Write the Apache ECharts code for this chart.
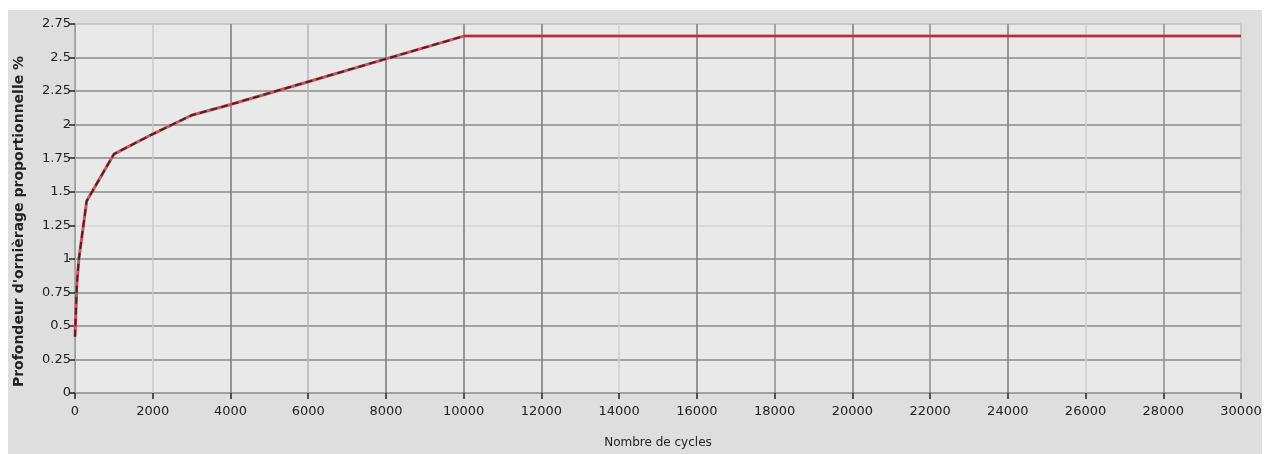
<!DOCTYPE html>
<html>
<head>
<meta charset="utf-8">
<script src="https://cdn.jsdelivr.net/npm/echarts@6/dist/echarts.min.js"></script>
<style>
  html, body { margin: 0; padding: 0; background: #ffffff; }
  #chart { position: absolute; left: 8px; top: 10px; width: 1254px; height: 444px; background: #dedede; }
</style>
</head>
<body>
<div id="chart"></div>
<script>
// Rut depth (%) against number of load cycles
const rutCycles = [0, 50, 100, 300, 1000, 2000, 3000, 4000, 6000, 8000, 10000];
const rutDepth  = [0.42, 0.82, 1.0, 1.43, 1.78, 1.93, 2.07, 2.15, 2.32, 2.49, 2.66];
const plateauCycles = [10000, 30000];
const plateauDepth  = [2.66, 2.66];

const xTicks = [0, 2000, 4000, 6000, 8000, 10000, 12000, 14000, 16000, 18000, 20000, 22000, 24000, 26000, 28000, 30000];
const yTicks = [0, 0.25, 0.5, 0.75, 1, 1.25, 1.5, 1.75, 2, 2.25, 2.5, 2.75];

const curve = rutCycles.map((c, i) => [c, rutDepth[i]]);
const plateau = plateauCycles.map((c, i) => [c, plateauDepth[i]]);
const redLine = curve.concat(plateau.slice(1));

// grid line shades, one per tick
const vShades = ['#9a9a9a', '#c8c8c8', '#7a7a7a', '#b4b4b4', '#7a7a7a', '#7a7a7a', '#7a7a7a', '#cfcfcf',
                 '#7a7a7a', '#8c8c8c', '#7a7a7a', '#8c8c8c', '#7a7a7a', '#cccccc', '#8c8c8c', '#c0c0c0'];
const hShades = ['#8a8a8a', '#8a8a8a', '#8a8a8a', '#8a8a8a', '#8a8a8a', '#d6d6d6', '#8a8a8a', '#8a8a8a',
                 '#8a8a8a', '#8a8a8a', '#8a8a8a', '#bdbdbd'];

const chart = echarts.init(document.getElementById('chart'));
const font = '"DejaVu Sans", sans-serif';
chart.setOption({
  animation: false,
  backgroundColor: '#dedede',
  grid: {
    left: 67, top: 14, width: 1166, height: 369,
    outerBoundsMode: 'none', containLabel: false,
    show: true, backgroundColor: '#e9e9e9', borderWidth: 0
  },
  xAxis: {
    type: 'value', min: xTicks[0], max: xTicks[xTicks.length - 1], interval: 2000,
    name: 'Nombre de cycles', nameLocation: 'middle', nameGap: 44,
    nameTextStyle: { fontFamily: font, fontSize: 12, color: '#222' },
    axisLine: { show: true, lineStyle: { color: '#a0a0a0', width: 1 } },
    axisTick: { show: true, length: 6, lineStyle: { color: '#222', width: 1.5 } },
    axisLabel: { fontFamily: font, fontSize: 13, color: '#222', margin: 12, formatter: v => String(v) },
    splitLine: { show: true, lineStyle: { color: vShades, width: 1.5 } }
  },
  yAxis: {
    type: 'value', min: yTicks[0], max: yTicks[yTicks.length - 1], interval: 0.25,
    name: "Profondeur d'ornièrage proportionnelle %", nameLocation: 'middle', nameGap: 49,
    nameTextStyle: { fontFamily: font, fontSize: 14, fontWeight: 'bold', color: '#222', padding: [0, 26, 0, 0] },
    axisLine: { show: true, lineStyle: { color: '#a0a0a0', width: 1 } },
    axisTick: { show: true, length: 6, lineStyle: { color: '#222', width: 1.5 } },
    axisLabel: { fontFamily: font, fontSize: 13, color: '#222', margin: 4, formatter: v => String(v) },
    splitLine: { show: true, lineStyle: { color: hShades, width: 1.5 } }
  },
  series: [
    {
      type: 'line', data: redLine, symbol: 'none',
      lineStyle: { color: '#d8505c', width: 3 },
      z: 2
    },
    {
      type: 'line', data: plateau, symbol: 'none',
      lineStyle: { color: '#a02a36', width: 1.5 },
      z: 3
    },
    {
      type: 'line', data: curve, symbol: 'none',
      lineStyle: { color: '#3a2a2c', width: 2, type: [7, 4] },
      z: 4
    }
  ]
});
</script>
</body>
</html>
